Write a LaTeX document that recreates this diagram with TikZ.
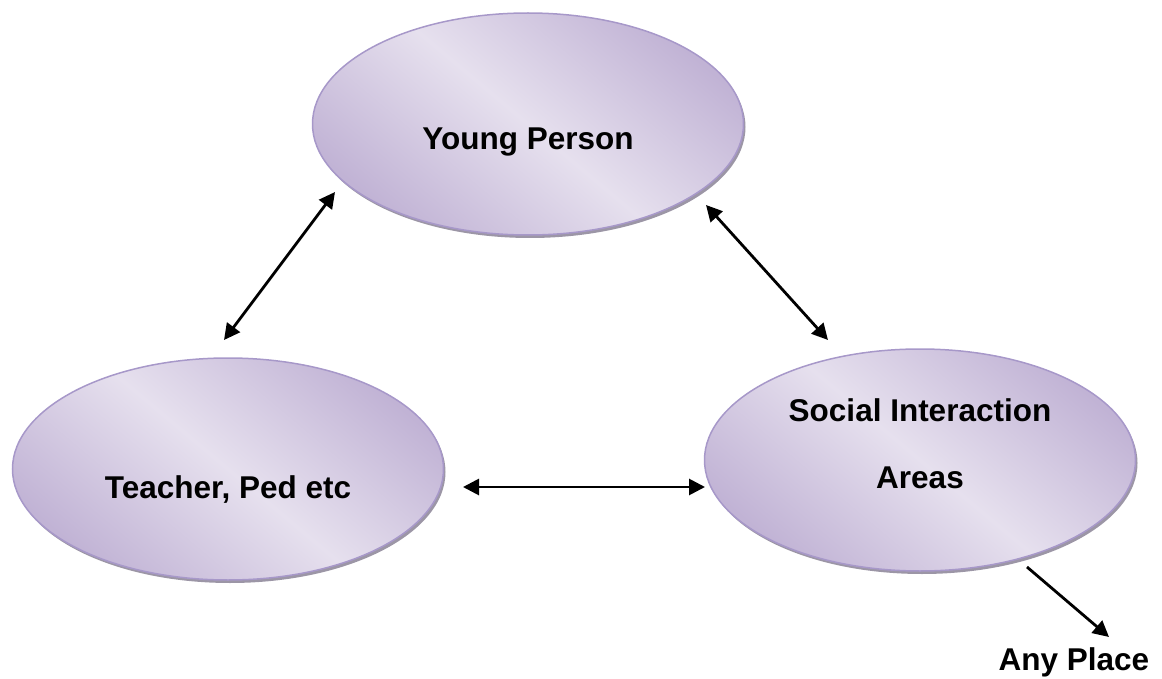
\documentclass[tikz,border=0pt]{standalone}
\usepackage{fontspec}
\setmainfont{Liberation Sans}
\usetikzlibrary{shapes.geometric,arrows.meta}
\definecolor{lavlight}{HTML}{E6E0EE}
\definecolor{lavdark}{HTML}{C1B3D5}
\definecolor{lavedge}{HTML}{A798C9}
\definecolor{shadowgray}{HTML}{9C96A6}
\tikzset{
  bubble/.style={ellipse, draw=lavedge, line width=1.5pt,
    minimum width=431pt, minimum height=222pt, inner sep=0pt,
    preaction={fill=shadowgray, transform canvas={shift={(2pt,-3pt)}}},
    shading=axis, top color=lavdark, bottom color=lavdark, middle color=lavlight, shading angle=-40},
  lbl/.style={font=\fontsize{31.5}{38}\selectfont\bfseries, inner sep=0pt, anchor=center},
  link/.style={line width=2.8pt, {Triangle[length=16pt,width=16pt]}-{Triangle[length=16pt,width=16pt]}},
  onelink/.style={line width=2.8pt, -{Triangle[length=16pt,width=16pt]}}
}
\begin{document}
\begin{tikzpicture}[x=1pt,y=-1pt]
\useasboundingbox (0,0) rectangle (1162,679);
\node[bubble] (yp) at (528,124) {};
\node[bubble] (tp) at (228,469) {};
\node[bubble] (sa) at (920,460) {};
\node[lbl] (ypt) at (528,142) {Young Person};
\node[lbl] (tpt) at (228,490) {Teacher, Ped etc};
\node[lbl] (sat1) at (920,410) {Social Interaction};
\node[lbl] (sat2) at (920,478) {Areas};
\node[lbl] (any) at (1074,662) {Any Place};
\coordinate (a1) at (335,192);
\coordinate (b1) at (224,340);
\coordinate (a2) at (706,205);
\coordinate (b2) at (828,340);
\coordinate (a3) at (463,487);
\coordinate (b3) at (705,487);
\coordinate (a4) at (1027,567);
\coordinate (b4) at (1109,637);
\draw[link] (a1) -- (b1);
\draw[link] (a2) -- (b2);
\draw[link] (a3) -- (b3);
\draw[onelink] (a4) -- (b4);
\end{tikzpicture}
\end{document}
